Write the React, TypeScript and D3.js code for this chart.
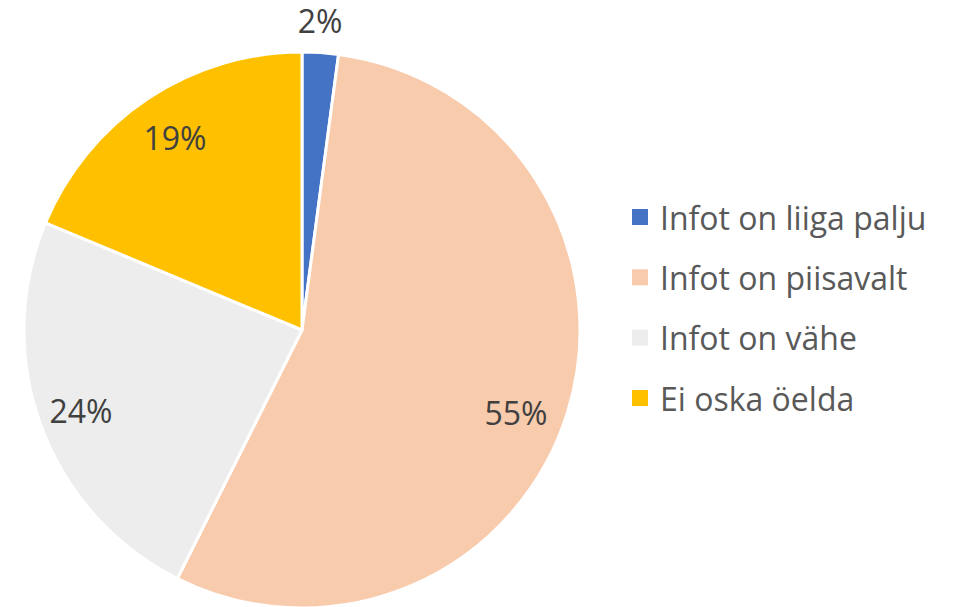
import React from "react";
import * as d3 from "d3";

const categories = ["Infot on liiga palju", "Infot on piisavalt", "Infot on vähe", "Ei oska öelda"];
const values = [2.1, 55.3, 23.9, 18.7];
const labels = ["2%", "55%", "24%", "19%"];
const colors = ["#4472C4", "#F8CBAD", "#EDEDED", "#FFC000"];

const W = 961, H = 607;
const cx = 302, cy = 330, R = 278;
const FONT = "'Open Sans', Lato, sans-serif";

export default function App() {
  const pie = d3.pie<number>().sort(null).value((d) => d)(values);
  const arc = d3.arc<d3.PieArcDatum<number>>().innerRadius(0).outerRadius(R);
  const labelPos: [number, number][] = [
    [cx + 18, cy - 310],
    [cx + 214, cy + 82],
    [cx - 221, cy + 80],
    [cx - 127, cy - 193],
  ];
  const legendY = d3.scalePoint<string>().domain(categories).range([217, 398]);
  return (
    <svg width={W} height={H} style={{ position: "absolute", left: 0, top: 0 }}>
      <rect width={W} height={H} fill="#fff" />
      <g transform={`translate(${cx},${cy})`}>
        {pie.map((p, i) => (
          <path key={i} d={arc(p) || ""} fill={colors[i]} stroke="#fff" strokeWidth={3} strokeLinejoin="round" />
        ))}
      </g>
      {labels.map((l, i) => (
        <text key={i} x={labelPos[i][0]} y={labelPos[i][1]} textAnchor="middle" dominantBaseline="central"
          fontFamily={FONT} fontSize={32} fill="#404040">{l}</text>
      ))}
      {categories.map((c, i) => (
        <g key={c} transform={`translate(632,${legendY(c)})`}>
          <rect x={0} y={-8} width={16} height={16} fill={colors[i]} />
          <text x={28} y={0} dominantBaseline="central" fontFamily={FONT} fontSize={32} fill="#595959">{c}</text>
        </g>
      ))}
    </svg>
  );
}
